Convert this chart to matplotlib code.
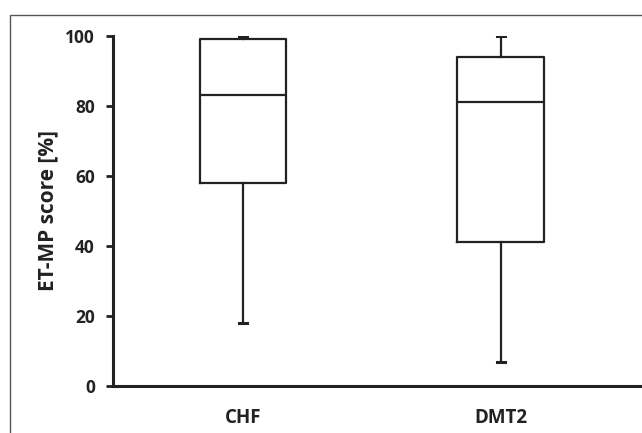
import matplotlib.pyplot as plt
from matplotlib.patches import Rectangle

plt.rcParams['font.family'] = ['Open Sans', 'DejaVu Sans']
plt.rcParams['font.weight'] = 'bold'

groups = ['CHF', 'DMT2']
# box statistics (whisker low, q1, median, q3, whisker high)
whislo = [18, 7]
q1 = [58, 41]
med = [83, 81]
q3 = [99, 94]
whishi = [100, 100]
yticks = [0, 20, 40, 60, 80, 100]

stats = []
for i in range(len(groups)):
    stats.append({'label': groups[i], 'whislo': whislo[i], 'q1': q1[i],
                  'med': med[i], 'q3': q3[i], 'whishi': whishi[i], 'fliers': []})

fig = plt.figure(figsize=(6.42, 4.33), dpi=100)
ax = fig.add_axes([0.176, 0.1085, 0.821, 0.8085])

line = dict(color='#222222', linewidth=1.6)
ax.bxp(stats, positions=[1, 2], widths=0.337, showfliers=False,
       boxprops=line, whiskerprops=line, medianprops=line,
       capprops=dict(color='#222222', linewidth=2.2), capwidths=0.032)

ax.set_xlim(0.496, 2.54)
ax.set_ylim(0, 100)
ax.set_yticks(yticks)
ax.set_ylabel('ET-MP score [%]', fontsize=15, fontweight='bold', color='#222222')
ax.yaxis.set_label_coords(-0.104, 0.5)

for s in ['top', 'right']:
    ax.spines[s].set_visible(False)
for s in ['left', 'bottom']:
    ax.spines[s].set_linewidth(2.2)
    ax.spines[s].set_color('#222222')

ax.tick_params(axis='y', direction='out', length=5, width=2, color='#222222',
               labelsize=12.5, labelcolor='#222222', pad=8)
ax.tick_params(axis='x', length=0, labelsize=13.5, labelcolor='#222222', pad=16)
for t in ax.get_xticklabels() + ax.get_yticklabels():
    t.set_fontweight('bold')

# thin frame around the figure, open at right and bottom
fig.patches.append(Rectangle((10 / 642, -0.1), 1.2, 1 - 15 / 433 + 0.1,
                             transform=fig.transFigure, fill=False,
                             edgecolor='#555555', linewidth=1.0, clip_on=False))

fig.savefig('out.png', dpi=100)
